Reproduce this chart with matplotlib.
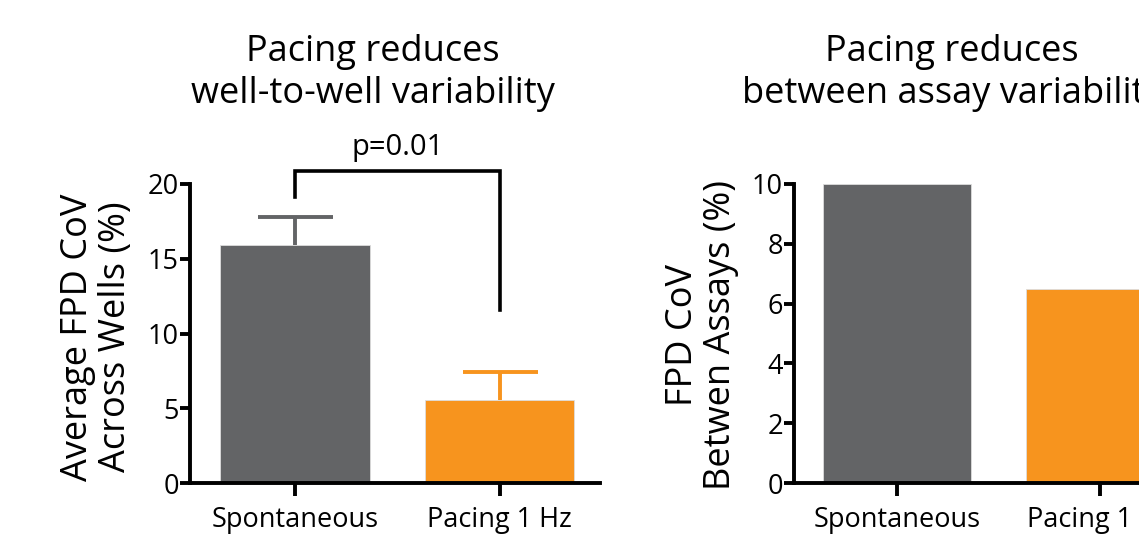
import matplotlib

matplotlib.use("Agg")
import matplotlib.pyplot as plt

# data
categories = ["Spontaneous", "Pacing 1 Hz"]
well_cov = [15.9, 5.55]
well_err = [1.9, 1.9]
assay_cov = [10.0, 6.5]
p_text = "p=0.01"

GRAY = "#636466"
ORANGE = "#F7941E"
W, H = 1139, 534

plt.rcParams["font.family"] = ["Open Sans", "DejaVu Sans"]


def px_axes(fig, x0, x1, y0, y1):
    # axes box from pixel coords (top-left origin)
    return fig.add_axes([x0 / W, 1 - y1 / H, (x1 - x0) / W, (y1 - y0) / H])


def style(ax, yticks):
    for s in ["top", "right"]:
        ax.spines[s].set_visible(False)
    for s in ["left", "bottom"]:
        ax.spines[s].set_linewidth(2.8)
    ax.set_yticks(yticks)
    ax.set_xticks([0, 1])
    ax.set_xticklabels(categories)
    ax.tick_params(axis="y", length=7, width=2.8, labelsize=19.5, pad=1)
    ax.tick_params(axis="x", length=9, width=2.8, labelsize=19.5, pad=7.5)


fig = plt.figure(figsize=(W / 100, H / 100), dpi=100)

# left panel
ax1 = px_axes(fig, 190, 600, 184, 483)
ax1.bar([0, 1], well_cov, width=0.73, color=[GRAY, ORANGE],
        edgecolor="#dddddd", linewidth=0.6, zorder=2)
for i, (v, e) in enumerate(zip(well_cov, well_err)):
    c = GRAY if i == 0 else ORANGE
    _, caps, _ = ax1.errorbar(i, v, yerr=[[0], [e]], color=c, elinewidth=2.8,
                              capsize=27, capthick=2.8, zorder=1)
    caps[0].set_visible(False)  # only the upper cap is drawn
ax1.set_xlim(-0.513, 1.49)
ax1.set_ylim(0, 20)
style(ax1, [0, 5, 10, 15, 20])
ax1.plot([0, 0, 1, 1], [19.1, 20.9, 20.9, 11.6], color="black", lw=2.6,
         clip_on=False, solid_joinstyle="miter")
ax1.text(0.5, 21.5, p_text, ha="center", va="bottom", fontsize=21)

# right panel (cut off at the figure edge like the reference)
ax2 = px_axes(fig, 794, 1199, 184, 483)
ax2.bar([0, 1], assay_cov, width=0.73, color=[GRAY, ORANGE],
        edgecolor="#dddddd", linewidth=0.6, zorder=2)
ax2.set_xlim(-0.507, 1.49)
ax2.set_ylim(0, 10)
style(ax2, [0, 2, 4, 6, 8, 10])

# titles
fig.text(373 / W, 1 - 73 / H, "Pacing reduces\nwell-to-well variability",
         ha="center", va="center", fontsize=26, linespacing=1.2)
fig.text(952 / W, 1 - 73 / H, "Pacing reduces\nbetween assay variability",
         ha="center", va="center", fontsize=26, linespacing=1.2)

# y labels
fig.text(97 / W, 1 - 337 / H, "Average FPD CoV\nAcross Wells (%)",
         ha="center", va="center", rotation=90, fontsize=26, linespacing=1.08)
fig.text(702 / W, 1 - 335 / H, "FPD CoV\nBetwen Assays (%)",
         ha="center", va="center", rotation=90, fontsize=26, linespacing=1.08)

fig.savefig("out.png", dpi=100)
